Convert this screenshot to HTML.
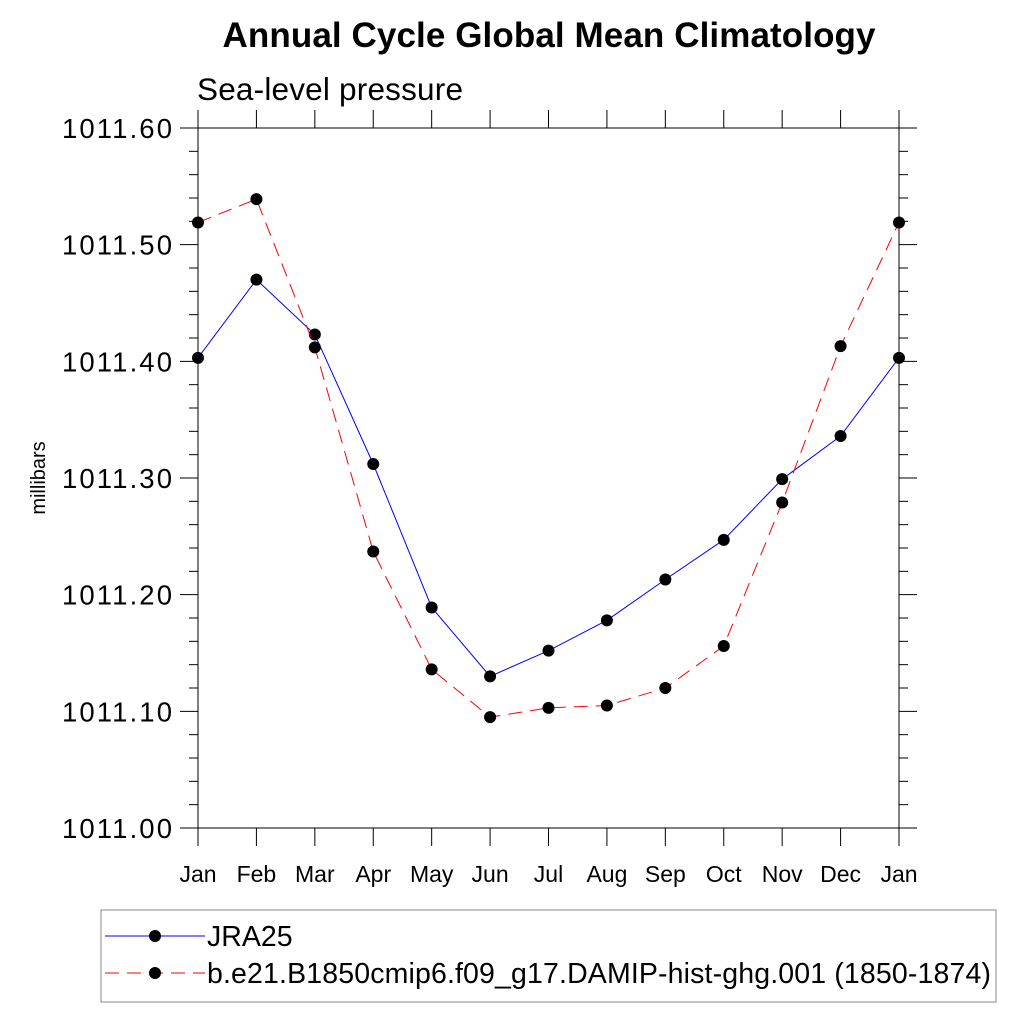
<!DOCTYPE html>
<html><head><meta charset="utf-8"><style>
body{margin:0;background:#fff;}
svg{display:block;font-family:"Liberation Sans",sans-serif;}
</style></head><body>
<svg id="chart" width="1024" height="1024">
<text x="549" y="47" font-size="35" font-weight="bold" text-anchor="middle" textLength="653">Annual Cycle Global Mean Climatology</text>
<text x="197" y="100" font-size="31.5" textLength="266">Sea-level pressure</text>
<text transform="translate(45,478) rotate(-90)" font-size="20" text-anchor="middle">millibars</text>
<g id="axes"></g>
<g id="series"></g>
<rect x="101" y="910" width="895" height="92" fill="none" stroke="#888" stroke-width="1"/>
<g>
<line x1="105" y1="936" x2="205" y2="936" stroke="#00f" stroke-width="1"/>
<circle cx="155" cy="936" r="6" fill="#000"/>
<text x="207" y="946" font-size="28.5">JRA25</text>
</g>
<g>
<line x1="105" y1="973" x2="205" y2="973" stroke="#f00" stroke-width="1" stroke-dasharray="14,8"/>
<circle cx="155" cy="973" r="6" fill="#000"/>
<text x="207" y="983" font-size="28.5" textLength="784">b.e21.B1850cmip6.f09_g17.DAMIP-hist-ghg.001 (1850-1874)</text>
</g>
</svg>
<script>
const months=["Jan","Feb","Mar","Apr","May","Jun","Jul","Aug","Sep","Oct","Nov","Dec","Jan"];
const jra25=[1011.403,1011.470,1011.423,1011.312,1011.189,1011.130,1011.152,1011.178,1011.213,1011.247,1011.299,1011.336,1011.403];
const model=[1011.519,1011.539,1011.412,1011.237,1011.136,1011.095,1011.103,1011.105,1011.120,1011.156,1011.279,1011.413,1011.519];
const yTicks=[1011.00,1011.10,1011.20,1011.30,1011.40,1011.50,1011.60];
const L=198,R=899,T=128,B=828,yMin=1011.0,yMax=1011.6;
const xs=i=>L+(R-L)*i/(months.length-1);
const ys=v=>B-(v-yMin)/(yMax-yMin)*(B-T);
const NS="http://www.w3.org/2000/svg";
function mk(p,tag,at){const e=document.createElementNS(NS,tag);for(const k in at)e.setAttribute(k,at[k]);p.appendChild(e);return e;}
const ax=document.getElementById('axes');
const fr=mk(ax,'rect',{x:L,y:T,width:R-L,height:B-T,fill:'none',stroke:'#000','stroke-width':1});


for(let v=yMin;v<=yMax+1e-9;v+=0.02){
 const y=ys(v);const major=Math.abs(Math.round(v*10)/10-v)<1e-6;const len=major?18:9;
 mk(ax,'line',{x1:L-len,y1:y,x2:L,y2:y,stroke:'#000'});
 mk(ax,'line',{x1:R,y1:y,x2:R+len,y2:y,stroke:'#000'});
}
yTicks.forEach(v=>{
 const t=mk(ax,'text',{x:62,y:ys(v)+10,'font-size':27.5,textLength:110});t.textContent=v.toFixed(2);
 
 
});
months.forEach((m,i)=>{
 const x=xs(i);
 mk(ax,'line',{x1:x,y1:B,x2:x,y2:B+18,stroke:'#000'});
 mk(ax,'line',{x1:x,y1:T-18,x2:x,y2:T,stroke:'#000'});
 const t=mk(ax,'text',{x:x,y:882,'font-size':23,'text-anchor':'middle'});t.textContent=m;
 
 
});
const sg=document.getElementById('series');
function draw(data,color,dash,name){
 const g=mk(sg,'g',{});
 
 
 const pts=data.map((v,i)=>xs(i)+','+ys(v)).join(' ');
 const pl=mk(g,'polyline',{points:pts,fill:'none',stroke:color,'stroke-width':1});
 if(dash)pl.setAttribute('stroke-dasharray',dash);
 data.forEach((v,i)=>{const c=mk(g,'circle',{cx:xs(i),cy:ys(v),r:6,fill:'#000'});
  
  });
}
draw(jra25,'#00f',null,'series-jra25');
draw(model,'#f00','14,8','series-model');
</script>
</body></html>
